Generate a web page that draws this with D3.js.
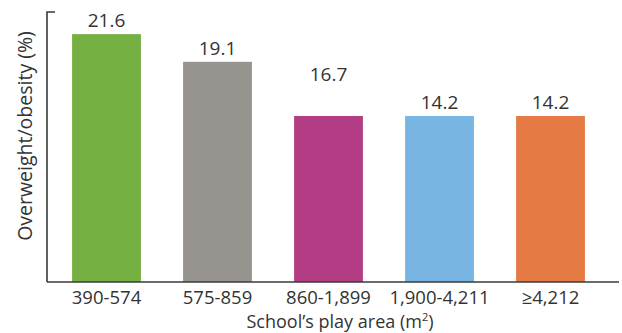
<!DOCTYPE html>
<html>
<head>
<meta charset="utf-8">
<script src="https://cdn.jsdelivr.net/npm/d3@7"></script>
<style>
  body { margin: 0; background: #fff; }
  text { font-family: "Open Sans", "Noto Sans", sans-serif; fill: #333; }
</style>
</head>
<body>
<div id="wrapper"></div>
<script>
// Play-area groups and the values printed above each bar
const categories = ["390-574", "575-859", "860-1,899", "1,900-4,211", "\u22654,212"]
const labelValues = [21.6, 19.1, 16.7, 14.2, 14.2]
// Bar heights as drawn in the picture (the 860-1,899 bar is drawn level with 14.2)
const barValues = [21.6, 19.1, 14.2, 14.2, 14.2]
const barColors = ["#76b043", "#97938f", "#b33d85", "#78b5e3", "#e67a45"]

const dimensions = {
  width: 622,
  height: 333,
  margin: { top: 12, right: 2, bottom: 51, left: 47 },
}
dimensions.boundedWidth = dimensions.width - dimensions.margin.left - dimensions.margin.right
dimensions.boundedHeight = dimensions.height - dimensions.margin.top - dimensions.margin.bottom

function drawBarChart() {
  const wrapper = d3.select("#wrapper")
    .append("svg")
      .attr("width", dimensions.width)
      .attr("height", dimensions.height)

  const bounds = wrapper.append("g")
    .attr("transform", `translate(${dimensions.margin.left},${dimensions.margin.top})`)

  // band scale for the groups
  const xScale = d3.scaleBand()
    .domain(categories)
    .range([4, 559])
    .paddingInner(0.38)
    .paddingOuter(0.19)

  // no y ticks shown; the axis starts a little below zero
  const yScale = d3.scaleLinear()
    .domain([-0.8, 23.6])
    .range([dimensions.boundedHeight, 0])

  bounds.selectAll("rect.bar")
    .data(categories)
    .join("rect")
      .attr("class", "bar")
      .attr("x", d => xScale(d))
      .attr("width", xScale.bandwidth())
      .attr("y", (d, i) => yScale(barValues[i]))
      .attr("height", (d, i) => dimensions.boundedHeight - yScale(barValues[i]))
      .attr("fill", (d, i) => barColors[i])

  bounds.selectAll("text.value")
    .data(categories)
    .join("text")
      .attr("class", "value")
      .attr("x", d => xScale(d) + xScale.bandwidth() / 2)
      .attr("y", (d, i) => yScale(labelValues[i]) - 7)
      .attr("text-anchor", "middle")
      .style("font-size", "19px")
      .text((d, i) => labelValues[i].toFixed(1))

  // y axis: plain line with a short tick at the top
  bounds.append("path")
    .attr("d", `M8,0 H0 V${dimensions.boundedHeight}`)
    .attr("fill", "none")
    .attr("stroke", "#3a3a3a")
    .attr("stroke-width", 1.6)

  // x axis
  const xAxisGenerator = d3.axisBottom(xScale)
    .tickSize(0)
    .tickSizeOuter(0)
    .tickPadding(9)

  const xAxis = bounds.append("g")
    .attr("transform", `translate(0,${dimensions.boundedHeight})`)
    .call(xAxisGenerator)

  xAxis.select(".domain")
    .attr("d", `M0,0 H${dimensions.boundedWidth - 1}`)
    .attr("stroke", "#3a3a3a")
    .attr("stroke-width", 1.6)

  xAxis.selectAll(".tick text")
    .style("font-size", "18.5px")
    .style("font-family", "'Open Sans', 'Noto Sans', sans-serif")
    .attr("fill", "#333")

  // axis titles
  const xTitle = wrapper.append("text")
    .attr("x", 340)
    .attr("y", 328)
    .attr("text-anchor", "middle")
    .style("font-size", "18px")
  xTitle.append("tspan").text("School\u2019s play area (m")
  xTitle.append("tspan").attr("dy", -7).style("font-size", "11px").text("2")
  xTitle.append("tspan").attr("dy", 7).text(")")

  wrapper.append("text")
    .attr("transform", "translate(32,136) rotate(-90)")
    .attr("text-anchor", "middle")
    .style("font-size", "19.5px")
    .text("Overweight/obesity (%)")
}

drawBarChart()
</script>
</body>
</html>
